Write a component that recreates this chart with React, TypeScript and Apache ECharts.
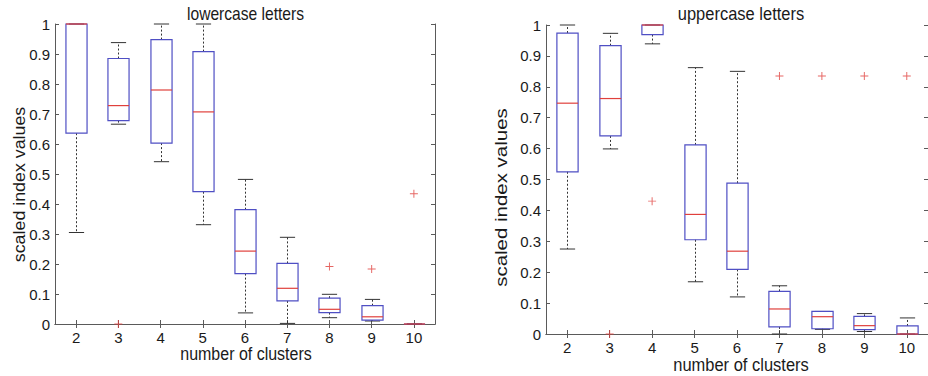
import React, { useEffect, useRef } from "react";
import * as echarts from "echarts";

// ---- data ----
const categories = ["2", "3", "4", "5", "6", "7", "8", "9", "10"];
const yTicks = [0, 0.1, 0.2, 0.3, 0.4, 0.5, 0.6, 0.7, 0.8, 0.9, 1];

// [lower whisker, Q1, median, Q3, upper whisker]
const lowerStats = [
  [0.305, 0.636, 1.0, 1.0, 1.0],
  [0.666, 0.678, 0.728, 0.885, 0.938],
  [0.541, 0.603, 0.78, 0.948, 1.0],
  [0.331, 0.441, 0.707, 0.908, 1.0],
  [0.037, 0.168, 0.243, 0.381, 0.482],
  [0.002, 0.077, 0.119, 0.202, 0.289],
  [0.021, 0.038, 0.049, 0.086, 0.099],
  [0.01, 0.013, 0.024, 0.061, 0.082],
  [0, 0, 0, 0, 0],
];
const lowerOutliers: [string, number][] = [
  ["3", 0],
  ["8", 0.192],
  ["9", 0.183],
  ["10", 0.434],
];

const upperStats = [
  [0.275, 0.525, 0.747, 0.974, 1.0],
  [0.599, 0.641, 0.762, 0.933, 0.973],
  [0.939, 0.969, 1.0, 1.0, 1.0],
  [0.169, 0.305, 0.387, 0.612, 0.862],
  [0.12, 0.209, 0.268, 0.488, 0.85],
  [0, 0.023, 0.081, 0.138, 0.156],
  [0.015, 0.017, 0.056, 0.073, 0.073],
  [0.008, 0.014, 0.027, 0.057, 0.066],
  [0, 0, 0, 0.026, 0.052],
];
const upperOutliers: [string, number][] = [
  ["3", 0],
  ["4", 0.43],
  ["7", 0.835],
  ["8", 0.835],
  ["9", 0.835],
  ["10", 0.835],
];

const titles = ["lowercase letters", "uppercase letters"];
const xName = "number of clusters";
const yName = "scaled index values";

// ---- styles ----
const AXIS = "#5a5a5a";
const TEXT = "#1a1a1a";
const BOX = "#4f4fc4";
const MED = "#e0403c";
const WHISK = "#333333";
const FONT = "'Liberation Sans', Arial, sans-serif";

const renderBox = (_params: any, api: any) => {
  const x = api.value(0);
  const pMin = api.coord([x, api.value(1)]);
  const pQ1 = api.coord([x, api.value(2)]);
  const pMed = api.coord([x, api.value(3)]);
  const pQ3 = api.coord([x, api.value(4)]);
  const pMax = api.coord([x, api.value(5)]);
  const band = api.size([1, 0])[0];
  const bw = band * 0.5;
  const cw = band * 0.36;
  const cx = Math.round(pMed[0]) + 0.5;
  const children: any[] = [];
  const dashed = { stroke: WHISK, lineWidth: 1, lineDash: [2, 2] };
  if (pQ3[1] - pMax[1] > 0.5)
    children.push({ type: "line", shape: { x1: cx, y1: pQ3[1], x2: cx, y2: pMax[1] }, style: dashed });
  if (pMin[1] - pQ1[1] > 0.5)
    children.push({ type: "line", shape: { x1: cx, y1: pQ1[1], x2: cx, y2: pMin[1] }, style: dashed });
  children.push({
    type: "line",
    shape: { x1: cx - cw / 2, y1: pMax[1], x2: cx + cw / 2, y2: pMax[1] },
    style: { stroke: WHISK, lineWidth: 1 },
  });
  children.push({
    type: "line",
    shape: { x1: cx - cw / 2, y1: pMin[1], x2: cx + cw / 2, y2: pMin[1] },
    style: { stroke: WHISK, lineWidth: 1 },
  });
  children.push({
    type: "rect",
    shape: { x: cx - bw / 2, y: pQ3[1], width: bw, height: pQ1[1] - pQ3[1] },
    style: { fill: "rgba(0,0,0,0)", stroke: BOX, lineWidth: 1.2 },
  });
  children.push({
    type: "line",
    shape: { x1: cx - bw / 2, y1: pMed[1], x2: cx + bw / 2, y2: pMed[1] },
    style: { stroke: MED, lineWidth: 1.2 },
  });
  return { type: "group", children };
};

const plusSymbol = "path://M0,4.4H10V5.6H0ZM4.4,0H5.6V10H4.4Z";

function makeAxes(gi: number) {
  const line = { show: true, lineStyle: { color: AXIS, width: 1 } };
  const tick = { show: true, inside: true, length: 4, lineStyle: { color: AXIS } };
  const xa = [
    {
      gridIndex: gi,
      type: "category",
      data: categories,
      position: "bottom",
      axisLine: line,
      axisTick: { ...tick, alignWithLabel: true },
      axisLabel: { color: TEXT, fontFamily: FONT, fontSize: 15, margin: 6 },
      splitLine: { show: false },
    },
    {
      gridIndex: gi,
      type: "category",
      data: categories,
      position: "top",
      axisLine: line,
      axisTick: { ...tick, alignWithLabel: true },
      axisLabel: { show: false },
      splitLine: { show: false },
    },
  ];
  const ya = [
    {
      gridIndex: gi,
      type: "value",
      min: yTicks[0],
      max: yTicks[yTicks.length - 1],
      interval: 0.1,
      position: "left",
      axisLine: line,
      axisTick: tick,
      axisLabel: {
        color: TEXT,
        fontFamily: FONT,
        fontSize: 15,
        margin: 5,
        formatter: (v: number) => String(+v.toFixed(1)),
      },
      splitLine: { show: false },
    },
    {
      gridIndex: gi,
      type: "value",
      min: yTicks[0],
      max: yTicks[yTicks.length - 1],
      interval: 0.1,
      position: "right",
      axisLine: line,
      axisTick: tick,
      axisLabel: { show: false },
      splitLine: { show: false },
    },
  ];
  return { xa, ya };
}

function hText(text: string, x: number, y: number, fs: number, sy: number) {
  return {
    type: "text",
    x,
    y,
    scaleY: sy,
    style: {
      text,
      fill: TEXT,
      font: `${fs}px ${FONT}`,
      textAlign: "center",
      textVerticalAlign: "middle",
    },
  };
}

function vText(text: string, x: number, y: number, fs: number, sx: number) {
  return {
    type: "text",
    x,
    y,
    rotation: Math.PI / 2,
    scaleX: sx,
    style: {
      text,
      fill: TEXT,
      font: `${fs}px ${FONT}`,
      textAlign: "center",
      textVerticalAlign: "middle",
    },
  };
}

export default function App() {
  const ref = useRef<HTMLDivElement>(null);
  useEffect(() => {
    if (!ref.current) return;
    const chart = echarts.init(ref.current, undefined, { renderer: "svg" });
    const a0 = makeAxes(0);
    const a1 = makeAxes(1);
    const option: any = {
      animation: false,
      backgroundColor: "#ffffff",
      grid: [
        { left: 55, top: 24, width: 380, height: 300 },
        { left: 546, top: 25, width: 391, height: 309 },
      ],
      xAxis: [...a0.xa, ...a1.xa],
      yAxis: [...a0.ya, ...a1.ya],
      graphic: [
        hText(titles[0], 245.5, 14.5, 15.6, 1.16),
        hText(titles[1], 741, 14, 16.5, 1.12),
        hText(xName, 246, 354, 16, 1.12),
        hText(xName, 741, 364.5, 16.5, 1.12),
        vText(yName, 19, 184.5, 16.5, 1.08),
        vText(yName, 501, 197.5, 16.5, 1.24),
      ],
      series: [
        {
          type: "custom",
          xAxisIndex: 0,
          yAxisIndex: 0,
          renderItem: renderBox,
          encode: { x: 0, y: [1, 2, 3, 4, 5] },
          data: lowerStats.map((s, i) => [i, ...s]),
          clip: false,
          z: 3,
        },
        {
          type: "scatter",
          xAxisIndex: 0,
          yAxisIndex: 0,
          symbol: plusSymbol,
          symbolSize: 8,
          itemStyle: { color: MED },
          data: lowerOutliers,
          clip: false,
          z: 4,
        },
        {
          type: "custom",
          xAxisIndex: 2,
          yAxisIndex: 2,
          renderItem: renderBox,
          encode: { x: 0, y: [1, 2, 3, 4, 5] },
          data: upperStats.map((s, i) => [i, ...s]),
          clip: false,
          z: 3,
        },
        {
          type: "scatter",
          xAxisIndex: 2,
          yAxisIndex: 2,
          symbol: plusSymbol,
          symbolSize: 8,
          itemStyle: { color: MED },
          data: upperOutliers,
          clip: false,
          z: 4,
        },
      ],
    };
    chart.setOption(option);
    return () => chart.dispose();
  }, []);
  return (
    <div
      ref={ref}
      style={{ position: "fixed", left: 0, top: 0, width: 928, height: 376, background: "#fff" }}
    />
  );
}
